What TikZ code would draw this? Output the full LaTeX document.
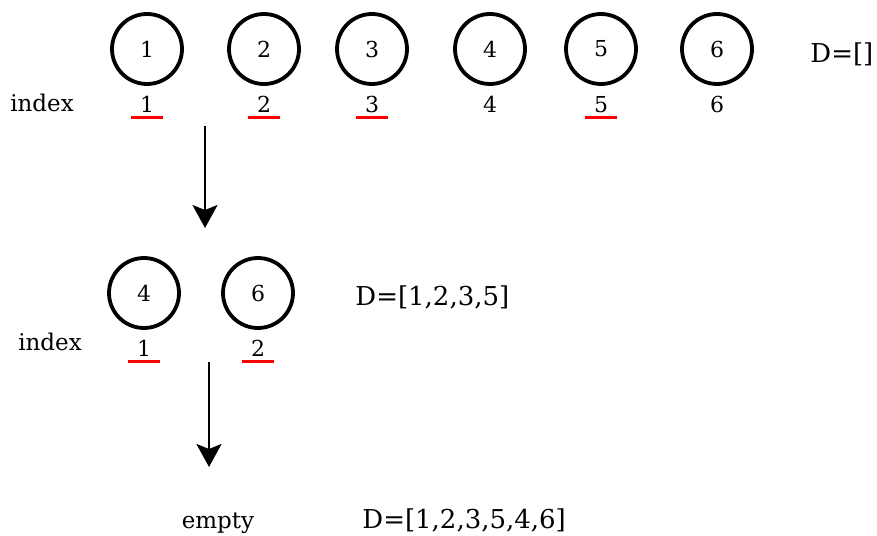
\documentclass[tikz,border=0pt]{standalone}
\usepackage{fontspec}
\setmainfont{DejaVu Serif}
\usetikzlibrary{positioning,arrows.meta}

\begin{document}
\begin{tikzpicture}[x=0.5pt,y=-0.5pt,
		num node/.style={circle,draw,line width=1.9pt,minimum size=35pt,inner sep=0pt,font=\fontsize{11}{13}\selectfont},
		idx node/.style={inner xsep=0pt,inner ysep=2.3pt,minimum width=16pt,text height=8pt,text depth=0pt,font=\fontsize{11}{13}\selectfont},
		mark line/.style={draw=red,line width=1.6pt},
		txt/.style={inner sep=0pt,anchor=base,font=\fontsize{11.5}{14}\selectfont},
		set/.style={inner sep=0pt,anchor=base west,font=\fontsize{13}{16}\selectfont},
		flow/.style={line width=1.1pt,-{Stealth[width=12.5pt,length=11.5pt,inset=2.5pt]}}]

		\useasboundingbox (0,0) rectangle (877,535);

		% first row
		\node[num node] (a1) at (147,49) {1};
		\node[num node] (a2) at (264,49) {2};
		\node[num node] (a3) at (372,49) {3};
		\node[num node] (a4) at (490,49) {4};
		\node[num node] (a5) at (601,49) {5};
		\node[num node] (a6) at (717,49) {6};

		\node[idx node] (i1) [below=2.8pt of a1] {1};
		\node[idx node] (i2) [below=2.8pt of a2] {2};
		\node[idx node] (i3) [below=2.8pt of a3] {3};
		\node[idx node] (i4) [below=2.8pt of a4] {4};
		\node[idx node] (i5) [below=2.8pt of a5] {5};
		\node[idx node] (i6) [below=2.8pt of a6] {6};

		\node[txt] (lab1) at (42,112) {index};
		\node[set] (d1) at (810,63) {D=[]};

		\draw[mark line] (i1.south west) -- (i1.south east)
		(i2.south west) -- (i2.south east)
		(i3.south west) -- (i3.south east)
		(i5.south west) -- (i5.south east);

		\coordinate (s1) at (205,126);
		\coordinate (e1) at (205,228);
		\draw[flow] (s1) -- (e1);

		% second row
		\node[num node] (b4) at (144,293) {4};
		\node[num node] (b6) at (258,293) {6};

		\node[idx node] (j1) [below=2.8pt of b4] {1};
		\node[idx node] (j2) [below=2.8pt of b6] {2};

		\node[txt] (lab2) at (50,350) {index};
		\node[set] (d2) at (355,305) {D=[1,2,3,5]};

		\draw[mark line] (j1.south west) -- (j1.south east)
		(j2.south west) -- (j2.south east);

		\coordinate (s2) at (209,362);
		\coordinate (e2) at (209,467);
		\draw[flow] (s2) -- (e2);

		% result
		\node[txt] (lab3) at (218,528) {empty};
		\node[set] (d3) at (362,528) {D=[1,2,3,5,4,6]};
	\end{tikzpicture}
\end{document}
